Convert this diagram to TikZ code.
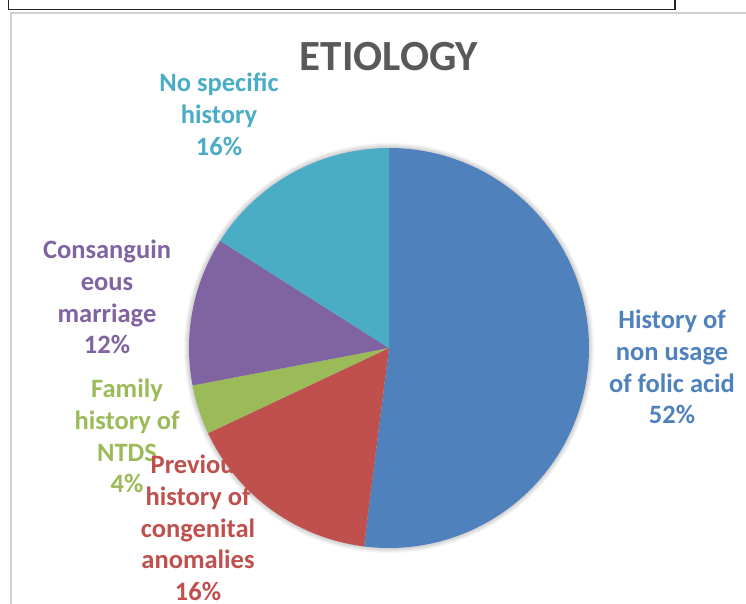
\documentclass[tikz,border=0pt]{standalone}
\usepackage{fontspec}
\setmainfont{Carlito}

\definecolor{sliceblue}{HTML}{4F81BD}
\definecolor{slicered}{HTML}{C0504D}
\definecolor{slicegreen}{HTML}{9BBB59}
\definecolor{slicepurple}{HTML}{8064A2}
\definecolor{slicecyan}{HTML}{4BACC6}
\definecolor{titlegray}{HTML}{595959}

\begin{document}
\begin{tikzpicture}[x=1pt,y=1pt,
    lab/.style={font=\fontsize{26.5}{31.8}\selectfont\bfseries, align=center}]
            \useasboundingbox (0,0) rectangle (746,-604);
            \fill[white] (0,0) rectangle (746,-604);
            
            % frames
            \draw[black!85, line width=1.2pt] (8.5,2) -- (8.5,-9.5) -- (675,-9.5) -- (675,2);
            \draw[black!18, line width=1.2pt] (11,-606) -- (11,-13) -- (748,-13);
            
            \node[font=\fontsize{43}{50}\selectfont\bfseries, text=titlegray] (title) at (389,-57) {ETIOLOGY};
            
            % pie
            \coordinate (c) at (389,-348);
            \foreach \r in {1,...,5}
                \fill[black, opacity=0.035] (c) circle[radius=200+\r];
            \def\a{90}
            \foreach \p/\c in {52/sliceblue,16/slicered,4/slicegreen,12/slicepurple,16/slicecyan}{
                \pgfmathsetmacro\b{\a-3.6*\p}
                \fill[\c] (c) -- ++(\a:200) arc[start angle=\a, end angle=\b, radius=200] -- cycle;
                \xdef\a{\b}
            }
            
            % labels
            \node[lab, text=sliceblue] (folic) at (672,-367) {History of\\non usage\\of folic acid\\52\%};
            \node[lab, text=slicecyan] (nohist) at (219,-114) {No specific\\history\\16\%};
            \node[lab, text=slicepurple] (consang) at (107,-297) {Consanguin\\eous\\marriage\\12\%};
            \node[lab, text=slicegreen] (family) at (127,-436) {Family\\history of\\NTDS\\4\%};
            \node[lab, text=slicered] (previous) at (198,-528) {Previous\\history of\\congenital\\anomalies\\16\%};
            
        \end{tikzpicture}
\end{document}
